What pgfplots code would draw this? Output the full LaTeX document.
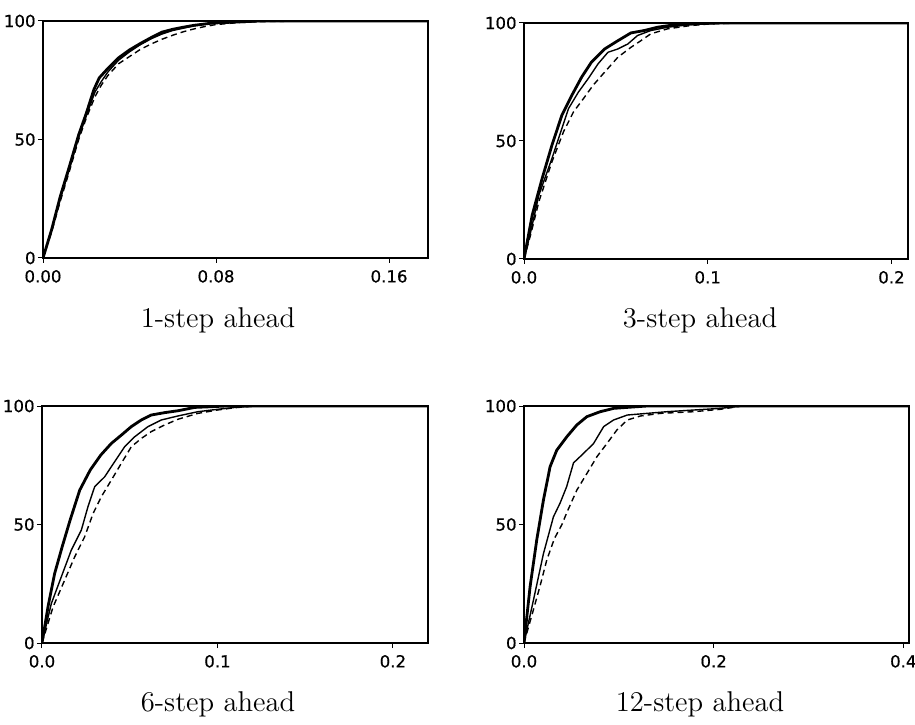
\documentclass[border=0pt]{standalone}
\usepackage{fontspec}
\usepackage{pgfplots}
\pgfplotsset{compat=1.18}
\newfontfamily\tickfont[FakeBold=0.6]{DejaVu Sans}
\pgfplotsset{
  panel/.style={
    scale only axis,
    anchor=south west,
    ymin=0, ymax=100,
    ytick={0,50,100},
    yticklabels={0,50,100},
    tick align=outside,
    xtick pos=bottom, ytick pos=left,
    major tick length=2.5pt,
    tick style={black, line width=0.5pt},
    axis line style={line width=0.65pt},
    ticklabel style={font=\tickfont\fontsize{8.3}{9}\selectfont},
    yticklabel style={inner xsep=1pt},
  },
  cthick/.style={black, line width=1.4pt, line join=round},
  cthin/.style={black, line width=0.7pt, line join=round},
  cdash/.style={black, line width=0.7pt, dash pattern=on 3pt off 2pt},
}
\begin{document}
\begin{tikzpicture}[x=1pt,y=1pt]
\useasboundingbox (0,0) rectangle (457.5,362);
% ---------------- 1-step ahead
\begin{axis}[panel, at={(21.5pt,233pt)}, width=192.5pt, height=118.5pt,
  xmin=0, xmax=0.178, xtick={0,0.08,0.16}, xticklabels={0.00,0.08,0.16}]
\addplot[cthick] coordinates {(0,0)(0.004,12)(0.008,26)(0.012,38)(0.0165,52)(0.02,61)(0.0235,71)(0.026,76)(0.03,80)(0.035,84.5)(0.04,87.8)(0.045,90.5)(0.05,93)(0.055,95.3)(0.06,96.5)(0.065,97.4)(0.07,98.2)(0.078,99.1)(0.09,99.6)(0.1,100)(0.178,100)};
\addplot[cthin] coordinates {(0,0)(0.004,12)(0.008,25)(0.012,37)(0.0165,51)(0.02,60)(0.024,70)(0.027,74.5)(0.03,78.5)(0.035,83.5)(0.04,87)(0.045,90)(0.05,92.5)(0.055,94.5)(0.06,96)(0.065,97)(0.07,98)(0.078,99)(0.09,99.6)(0.105,100)(0.178,100)};
\addplot[cdash] coordinates {(0,0)(0.004,11)(0.008,24)(0.012,36)(0.0165,50)(0.02,59)(0.024,68)(0.027,73)(0.03,77)(0.035,82)(0.04,85)(0.045,88)(0.05,90.3)(0.055,92.3)(0.06,94)(0.065,95.5)(0.07,96.7)(0.075,97.7)(0.08,98.5)(0.09,99.3)(0.1,99.7)(0.12,100)(0.178,100)};
\end{axis}
% ---------------- 3-step ahead
\begin{axis}[panel, at={(262pt,232.5pt)}, width=192pt, height=118pt,
  xmin=0, xmax=0.209, xtick={0,0.1,0.2}, xticklabels={0.0,0.1,0.2}]
\addplot[cthick] coordinates {(0,0)(0.0045,18.7)(0.0099,34.2)(0.0152,48.2)(0.0206,60.9)(0.026,69.3)(0.0314,77.1)(0.0367,83.4)(0.0439,89)(0.0511,92.5)(0.0582,95.8)(0.0654,96.8)(0.0726,98.2)(0.0815,99.2)(0.0905,99.6)(0.105,100)(0.209,100)};
\addplot[cthin] coordinates {(0,0)(0.0035,11)(0.0081,27.1)(0.0152,42.6)(0.0206,55.3)(0.0242,63.7)(0.0296,70.7)(0.0349,76.4)(0.0403,82.7)(0.0457,87.6)(0.0511,89)(0.0565,91.1)(0.0618,94.7)(0.069,96.8)(0.078,98.2)(0.0905,99.3)(0.11,100)(0.209,100)};
\addplot[cdash] coordinates {(0,0)(0.0035,10)(0.0081,24.3)(0.0152,41.2)(0.0215,53.9)(0.0269,62.3)(0.0323,67.9)(0.0376,73.6)(0.0439,79.2)(0.0511,85.5)(0.0582,89.7)(0.0636,92.5)(0.069,95.4)(0.078,97.5)(0.0905,98.9)(0.101,99.6)(0.12,100)(0.209,100)};
\end{axis}
% ---------------- 6-step ahead
\begin{axis}[panel, at={(21pt,40.5pt)}, width=193pt, height=118.5pt,
  xmin=0, xmax=0.22, xtick={0,0.1,0.2}, xticklabels={0.0,0.1,0.2}]
\addplot[cthick] coordinates {(0,0)(0.0034,15.2)(0.0072,29.3)(0.0115,40.6)(0.016,51.8)(0.0215,64.5)(0.0275,73)(0.0335,79.3)(0.0395,84.2)(0.0452,87.7)(0.0509,91.3)(0.0566,94.1)(0.0623,96.2)(0.0699,97.2)(0.0775,98)(0.087,99.4)(0.0965,99.7)(0.105,100)(0.22,100)};
\addplot[cthin] coordinates {(0,0)(0.0053,16.6)(0.011,27.9)(0.0167,39.2)(0.0224,47.6)(0.0262,57.5)(0.03,65.9)(0.0357,70.1)(0.0414,76.5)(0.0471,82.8)(0.0528,87)(0.0604,91.3)(0.068,94.1)(0.0775,95.8)(0.0889,97.6)(0.1,98.6)(0.11,99.4)(0.122,100)(0.22,100)};
\addplot[cdash] coordinates {(0,0)(0.0063,15.2)(0.0129,26.5)(0.0186,36.3)(0.0243,44.8)(0.0291,54.6)(0.0338,61.7)(0.0395,68.7)(0.0452,75.8)(0.0509,82.8)(0.0566,86.3)(0.0623,89.2)(0.0699,92)(0.0775,94.4)(0.0889,96.9)(0.1,98.3)(0.11,99.3)(0.122,100)(0.22,100)};
\end{axis}
% ---------------- 12-step ahead
\begin{axis}[panel, at={(262pt,40.5pt)}, width=192.5pt, height=118.5pt,
  xmin=0, xmax=0.406, xtick={0,0.2,0.4}, xticklabels={0.0,0.2,0.4}]
\addplot[cthick] coordinates {(0,0)(0.0064,23.7)(0.0134,43.4)(0.0205,60.3)(0.0275,74.4)(0.0346,81.4)(0.0451,87)(0.0557,92)(0.0663,95.5)(0.0804,97.6)(0.0945,99)(0.119,99.7)(0.13,100)(0.406,100)};
\addplot[cthin] coordinates {(0,0)(0.0099,18)(0.0205,37.7)(0.031,53.2)(0.038,59)(0.045,66)(0.0522,76)(0.0628,80)(0.0734,84.2)(0.084,91.3)(0.0945,94.1)(0.109,96.2)(0.13,96.9)(0.151,97.6)(0.179,98.3)(0.207,99)(0.23,100)(0.406,100)};
\addplot[cdash] coordinates {(0,0)(0.0099,14)(0.0169,24)(0.024,35)(0.032,44)(0.04,50)(0.0451,55)(0.0557,64.5)(0.0663,71.5)(0.0769,78.6)(0.0875,84.2)(0.098,89.9)(0.109,94.1)(0.123,95.8)(0.144,96.9)(0.179,97.6)(0.207,98.6)(0.23,100)(0.406,100)};
\end{axis}
% ---------------- captions
\node[anchor=base, font=\fontsize{14.3}{16}\selectfont] at (109,198) {1-step ahead};
\node[anchor=base, font=\fontsize{14.3}{16}\selectfont] at (350,198) {3-step ahead};
\node[anchor=base, font=\fontsize{14.3}{16}\selectfont] at (109,6.5) {6-step ahead};
\node[anchor=base, font=\fontsize{14.3}{16}\selectfont] at (350,6.5) {12-step ahead};
\end{tikzpicture}
\end{document}
